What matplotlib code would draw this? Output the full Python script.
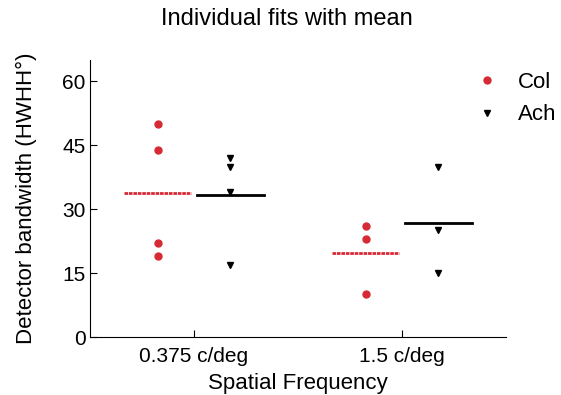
import matplotlib
matplotlib.use("Agg")
import matplotlib.pyplot as plt
import numpy as np

plt.rcParams["font.family"] = ["Liberation Sans", "DejaVu Sans"]

RED = "#d62a35"

categories = ["0.375 c/deg", "1.5 c/deg"]
cat_pos = [1, 3]
col_vals = [[50, 44, 22, 19], [26, 23, 10]]
ach_vals = [[42, 40, 34, 17], [40, 25, 15]]
y_ticks = [0, 15, 30, 45, 60]

offset = 0.35
half_w = 0.32

fig = plt.figure(figsize=(5.61, 3.95), dpi=100)
ax = fig.add_axes([0.1604, 0.1468, 0.7416, 0.7012])

for i, x0 in enumerate(cat_pos):
    cx = x0 - offset
    ax.plot([cx] * len(col_vals[i]), col_vals[i], "o", color=RED, ms=5, mec=RED,
            label="Col" if i == 0 else None)
    ax.plot([cx - half_w, cx + half_w], [np.mean(col_vals[i])] * 2, color=RED,
            lw=2, linestyle=(0, (1.3, 0.3)))
    ax2 = x0 + offset
    ax.plot([ax2] * len(ach_vals[i]), ach_vals[i], "v", color="black", ms=5,
            label="Ach" if i == 0 else None)
    ax.plot([ax2 - half_w, ax2 + half_w], [np.mean(ach_vals[i])] * 2, color="black", lw=2)

ax.set_xlim(0, 4)
ax.set_ylim(0, 65)
ax.set_xticks(cat_pos)
ax.set_xticklabels(categories)
ax.set_yticks(y_ticks)
ax.tick_params(direction="in", labelsize=15, length=5, pad=7)
ax.tick_params(axis="y", pad=3)
for s in ["top", "right"]:
    ax.spines[s].set_visible(False)

ax.set_xlabel("Spatial Frequency", fontsize=16, labelpad=5)
ax.set_ylabel("Detector bandwidth (HWHH°)", fontsize=16, labelpad=18)
ax.set_title("Individual fits with mean", fontsize=17, pad=25, x=0.474)

ax.legend(loc="upper left", bbox_to_anchor=(0.906, 0.988), frameon=False, fontsize=16,
          handletextpad=0.9, labelspacing=0.5, handlelength=1.0, borderaxespad=0)

fig.savefig("out.png", dpi=100)
